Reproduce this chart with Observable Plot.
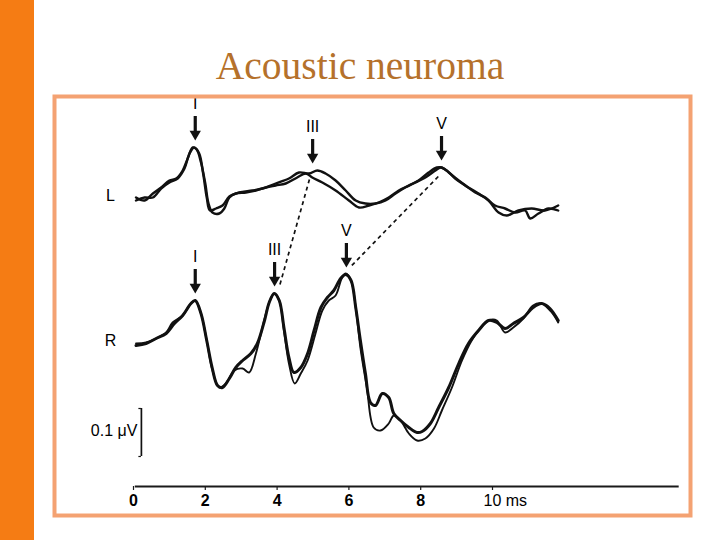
<!DOCTYPE html>
<html><head><meta charset="utf-8">
<script src="https://cdn.jsdelivr.net/npm/d3@7"></script>
<script src="https://cdn.jsdelivr.net/npm/@observablehq/plot@0.6"></script>
<style>
html,body{margin:0;padding:0;background:#fff;}
#page{position:relative;width:720px;height:540px;overflow:hidden;background:#fff;}
#bar{position:absolute;left:0;top:0;width:34px;height:540px;background:#F57C14;}
#title{position:absolute;left:0;top:47px;width:720px;text-align:center;font-family:"Liberation Serif","Times New Roman",serif;font-size:39.5px;line-height:39.5px;color:#B5712B;}
#chart{position:absolute;left:0;top:0;}
</style></head><body>
<div id="page"><div id="bar"></div><div id="title">Acoustic neuroma</div><div id="chart"></div></div>
<script>
// ---- Data (time in ms, amplitude in scale-bar units: 48 units = 0.1 µV) ----
const L1_t = [0.07,0.31,0.54,0.77,1.0,1.19,1.37,1.51,1.65,1.76,1.88,2.0,2.09,2.2,2.39,2.53,2.67,2.85,3.13,3.41,3.69,3.96,4.24,4.56,4.8,4.98,5.26,5.63,6.0,6.28,6.56,6.83,7.11,7.39,7.67,7.94,8.22,8.45,8.59,8.78,9.06,9.33,9.61,9.89,10.17,10.4,10.72,11.09,11.46,11.83];
const L1_a = [-2,-5,2,8,15,17,25,37,48,46,33,12,-8,-17,-18,-13,-2,2,3,5,8,10,12,18,22,18,13,5,-5,-12,-10,-7,-2,5,10,15,23,28,28,23,15,8,2,-5,-17,-20,-15,-13,-15,-10];
const L2_t = [0.07,0.31,0.54,0.77,1.0,1.23,1.42,1.56,1.69,1.83,1.94,2.04,2.13,2.3,2.48,2.67,2.94,3.31,3.59,3.96,4.33,4.61,4.89,5.12,5.35,5.63,5.91,6.19,6.46,6.74,7.02,7.3,7.57,7.85,8.13,8.41,8.55,8.73,8.96,9.24,9.52,9.8,10.07,10.35,10.63,10.91,11.05,11.28,11.56,11.83];
const L2_a = [-5,-2,-2,7,13,17,27,42,48,42,22,-2,-15,-13,-10,-1,3,5,7,12,17,23,22,25,22,15,5,-5,-8,-8,-5,2,8,13,18,25,28,25,17,10,3,-2,-10,-13,-17,-15,-23,-18,-13,-15];
const R1_t = [0.07,0.35,0.63,0.91,1.14,1.37,1.6,1.72,1.88,2.04,2.19,2.34,2.48,2.67,2.85,3.04,3.27,3.45,3.65,3.78,3.92,4.06,4.19,4.33,4.47,4.66,4.85,5.03,5.22,5.4,5.58,5.77,5.91,6.06,6.19,6.32,6.46,6.6,6.74,6.93,7.11,7.25,7.44,7.67,7.9,8.04,8.27,8.5,8.78,9.06,9.33,9.61,9.89,10.12,10.35,10.58,10.86,11.13,11.37,11.6,11.83];
const R1_a = [-5,-3,2,7,17,25,37,40,27,0,-27,-45,-47,-38,-27,-20,-13,-3,20,38,47,40,13,-17,-32,-27,-13,10,33,43,50,62,66,60,33,0,-33,-62,-65,-53,-57,-73,-80,-87,-92,-91,-83,-67,-47,-23,-3,10,20,18,12,17,23,33,37,32,20];
const R2_t = [0.07,0.35,0.63,0.91,1.09,1.37,1.6,1.72,1.88,2.04,2.2,2.39,2.57,2.81,3.04,3.22,3.41,3.59,3.78,3.92,4.06,4.19,4.33,4.49,4.66,4.85,5.07,5.26,5.44,5.63,5.8,5.91,6.06,6.19,6.32,6.5,6.69,6.88,7.11,7.25,7.44,7.67,7.9,8.13,8.37,8.59,8.87,9.15,9.42,9.66,9.89,10.12,10.35,10.58,10.86,11.13,11.37,11.65,11.83];
const R2_a = [-3,-2,2,8,18,25,37,40,27,0,-30,-47,-43,-30,-28,-32,-13,13,38,47,40,10,-23,-43,-33,-20,7,30,40,45,62,67,60,33,-7,-47,-87,-90,-83,-75,-80,-93,-100,-98,-88,-70,-47,-20,0,12,20,20,8,13,22,35,37,28,18];

const earNames = ["L", "R"];
const peakWave = ["I", "III", "V", "I", "III", "V"];
const peakEar  = ["L", "L", "L", "R", "R", "R"];
const peakMs   = [1.72, 4.99, 8.58, 1.72, 3.93, 5.93];
const peakAmp  = [48, 25, 28, 40, 47, 66];
const connectWaves = ["III", "V"];
const tickValues = [0, 2, 4, 6, 8, 10];
const tickUnit = "ms";
const scaleLabel = "0.1 μV";
const scaleUnits = 48;

// ---- Layout helpers ----
const earOffset = {L: 145, R: 0};
const sans = '"Liberation Sans", Arial, Helvetica, sans-serif';
const narrow = '"Liberation Sans Narrow", "Liberation Sans", Arial, sans-serif';

const traceDefs = [
  {id: "L1", ear: "L", t: L1_t, a: L1_a, w: 2.4},
  {id: "L2", ear: "L", t: L2_t, a: L2_a, w: 2.4},
  {id: "R1", ear: "R", t: R1_t, a: R1_a, w: 3.0},
  {id: "R2", ear: "R", t: R2_t, a: R2_a, w: 1.9}
];
const traceMarks = traceDefs.map(d =>
  Plot.line(d.t.map((t, i) => ({t, v: d.a[i] + earOffset[d.ear]})),
    {x: "t", y: "v", stroke: "#111", strokeWidth: d.w, curve: "catmull-rom", strokeLinejoin: "round"})
);

const peaks = peakWave.map((w, i) => ({wave: w, ear: peakEar[i], t: peakMs[i], v: peakAmp[i] + earOffset[peakEar[i]]}));
const tipGap = 7, headC = 6.5, shaftLo = 8, shaftHi = 24, labelGap = 44;
const links = connectWaves.map(w => {
  const a = peaks.find(p => p.ear === "L" && p.wave === w);
  const b = peaks.find(p => p.ear === "R" && p.wave === w);
  return {x1: a.t - 0.09, y1: a.v - 9, x2: b.t + 0.15, y2: b.v + 9};
});

const axisLevel = -146;
const scaleX = 0.22, scaleTop = -68;

const chart = Plot.plot({
  width: 720, height: 540,
  marginLeft: 54, marginRight: 30, marginTop: 96, marginBottom: 25,
  x: {domain: [0, 10], range: [133, 492], axis: null},
  y: {domain: [-200, 340], range: [540, 0], axis: null},
  style: {background: "transparent", overflow: "visible"},
  marks: [
    ...traceMarks,
    Plot.link(links, {x1: "x1", y1: "y1", x2: "x2", y2: "y2", stroke: "#111", strokeWidth: 1.7, strokeDasharray: "4,3.5"}),
    Plot.ruleX(peaks, {x: "t", y1: d => d.v + tipGap + shaftLo, y2: d => d.v + tipGap + shaftHi, stroke: "#111", strokeWidth: 3.2}),
    Plot.dot(peaks, {x: "t", y: d => d.v + tipGap + headC, symbol: "triangle", rotate: 180, r: 4.2, fill: "#111", stroke: "none"}),
    Plot.text(peaks, {x: "t", y: d => d.v + labelGap, text: "wave", fontSize: 16, fontFamily: narrow, fill: "#000"}),
    Plot.text(earNames, {x: () => -0.64, y: e => earOffset[e], text: d => d, fontSize: 16, fontFamily: sans, fill: "#000"}),
    // scale bar
    Plot.ruleX([scaleX], {x: d => d, y1: scaleTop, y2: scaleTop - scaleUnits, stroke: "#111", strokeWidth: 1.7}),
    Plot.ruleY([scaleTop, scaleTop - scaleUnits], {y: d => d, x1: scaleX - 0.07, x2: scaleX, stroke: "#111", strokeWidth: 1.2}),
    Plot.text([scaleLabel], {x: () => 0.11, y: () => scaleTop - 22, text: d => d, textAnchor: "end", fontSize: 16, fontFamily: sans, fill: "#000"}),
    // time axis
    Plot.ruleY([axisLevel], {y: d => d, x1: 0.05, x2: 15.2, stroke: "#1a1a1a", strokeWidth: 2}),
    Plot.ruleX(tickValues, {x: d => d, y1: axisLevel, y2: axisLevel - 4, stroke: "#1a1a1a", strokeWidth: 1.2}),
    Plot.text(tickValues.slice(0, -1), {x: d => d, y: () => axisLevel - 14, text: d => String(d), fontSize: 16, fontFamily: sans, fontWeight: "bold", fill: "#000"}),
    Plot.text(tickValues.slice(-1), {x: d => d, y: () => axisLevel - 14, text: d => `${d} ${tickUnit}`, textAnchor: "start", dx: -9, fontSize: 16, fontFamily: narrow, fill: "#000"}),
    Plot.frame({stroke: "#F4A272", strokeWidth: 4})
  ]
});
document.getElementById("chart").append(chart);
</script>
</body></html>
